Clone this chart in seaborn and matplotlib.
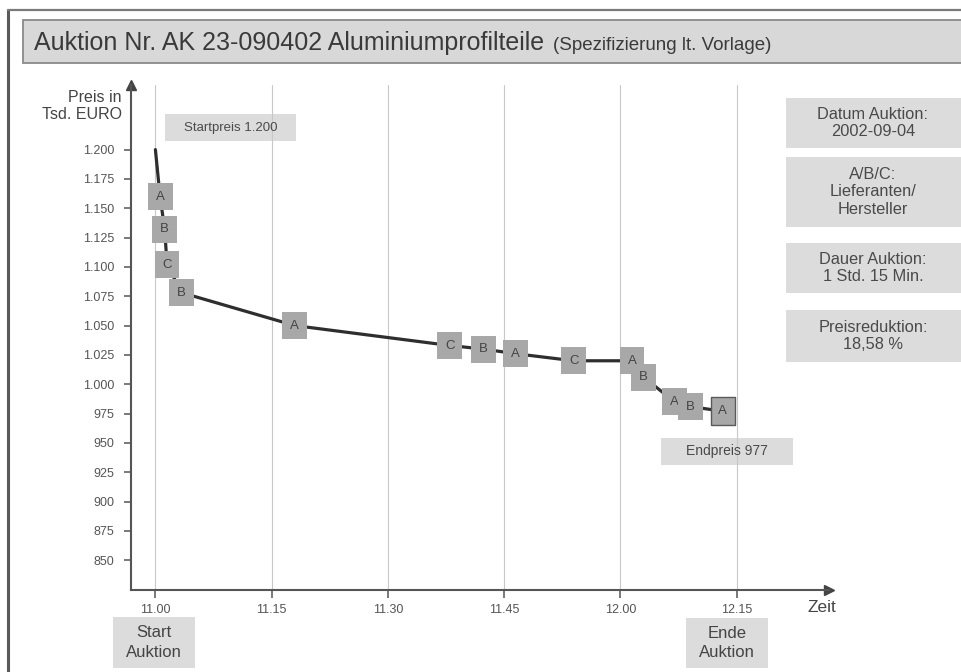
import matplotlib
matplotlib.use("Agg")
import matplotlib.pyplot as plt
import seaborn as sns
import pandas as pd
from matplotlib.patches import Rectangle
from matplotlib.lines import Line2D

# Bid history: minutes after 11.00, price in thousand EURO, bidding supplier
minutes = [0.0, 0.6, 1.2, 1.5, 3.4, 18.0, 38.0, 42.3, 46.5, 54.0, 61.5, 63.0, 67.0, 69.0, 73.2]
prices = [1200, 1160, 1132, 1102, 1078, 1050, 1033, 1030, 1026, 1020, 1020, 1006, 985, 981, 977]
bidders = ["", "A", "B", "C", "B", "A", "C", "B", "A", "C", "A", "B", "A", "B", "A"]

time_ticks = [0, 15, 30, 45, 60, 75]
time_labels = ["11.00", "11.15", "11.30", "11.45", "12.00", "12.15"]
price_ticks = [850, 875, 900, 925, 950, 975, 1000, 1025, 1050, 1075, 1100, 1125, 1150, 1175, 1200]
price_labels = ["850", "875", "900", "925", "950", "975", "1.000", "1.025", "1.050",
                "1.075", "1.100", "1.125", "1.150", "1.175", "1.200"]

info_texts = ["Datum Auktion:\n2002-09-04",
              "A/B/C:\nLieferanten/\nHersteller",
              "Dauer Auktion:\n1 Std. 15 Min.",
              "Preisreduktion:\n18,58 %"]

title_main = "Auktion Nr. AK 23-090402 Aluminiumprofilteile"
title_sub = "(Spezifizierung lt. Vorlage)"

sns.set_theme(style="white")
plt.rcParams["font.family"] = ["Liberation Sans", "DejaVu Sans"]

W, H = 962, 672
fig = plt.figure(figsize=(W / 100, H / 100), dpi=100)
fig.patch.set_facecolor("white")


def fx(x):
    return x / W


def fy(y):
    return 1 - y / H


def fig_box(x0, y0, x1, y1, face="#dcdcdc", edge="none", lw=0):
    fig.add_artist(Rectangle((fx(x0), fy(y1)), fx(x1) - fx(x0), fy(y0) - fy(y1),
                             transform=fig.transFigure, facecolor=face,
                             edgecolor=edge, linewidth=lw, zorder=0))


# outer frame
fig.add_artist(Line2D([fx(8), fx(8)], [0, fy(10)], color="#5a5a5a", lw=2.2,
                      transform=fig.transFigure))
fig.add_artist(Line2D([fx(8), 1], [fy(10), fy(10)], color="#7a7a7a", lw=1.6,
                      transform=fig.transFigure))

# title bar
fig_box(23, 20, 975, 63, face="#d8d8d8", edge="#8a8a8a", lw=1.3)
fig.text(fx(34), fy(50), title_main, fontsize=18, color="#3a3a3a", va="baseline", ha="left")
fig.text(fx(553), fy(50), title_sub, fontsize=13.5, color="#3a3a3a", va="baseline", ha="left")

# plot area
left_px, right_px, top_px, bottom_px = 131, 829, 85, 590
ax = fig.add_axes([fx(left_px), fy(bottom_px), fx(right_px) - fx(left_px), fy(top_px) - fy(bottom_px)])
ax.set_facecolor("none")

px_per_min = 7.75
px_per_unit = 29.33 / 25
ax.set_xlim(-(155.4 - left_px) / px_per_min, (right_px - 155.4) / px_per_min)
ax.set_ylim(1200 - (bottom_px - 149.6) / px_per_unit, 1200 + (149.6 - top_px) / px_per_unit)

df = pd.DataFrame({"minute": minutes, "price": prices, "bidder": bidders})
bids = df[df["bidder"] != ""]

sns.lineplot(data=df, x="minute", y="price", estimator=None, sort=False,
             color="#2e2e2e", linewidth=2.3, ax=ax, zorder=2)

box_marker = [(-0.46, -0.5), (0.46, -0.5), (0.46, 0.5), (-0.46, 0.5), (-0.46, -0.5)]
for i, row in bids.iterrows():
    last = i == bids.index[-1]
    sns.scatterplot(x=[row["minute"]], y=[row["price"]], marker=box_marker, s=380,
                    color="#a8a8a8", edgecolor="#5a5a5a" if last else "none",
                    linewidth=1.0 if last else 0, ax=ax, zorder=3 + i * 0.01, legend=False)
    ax.text(row["minute"], row["price"], row["bidder"], ha="center", va="center",
            fontsize=9.5, color="#444444", zorder=3.005 + i * 0.01)

ax.set_xticks(time_ticks)
ax.set_xticklabels(time_labels)
ax.set_yticks(price_ticks)
ax.set_yticklabels(price_labels)
ax.set_xlabel("")
ax.set_ylabel("")
ax.grid(axis="x", color="#c8c8c8", linewidth=0.8)
ax.grid(axis="y", visible=False)
ax.tick_params(axis="y", direction="out", length=5, width=1.1, color="#555555",
               labelsize=9, labelcolor="#555555", pad=7, left=True)
ax.tick_params(axis="x", direction="out", length=6, width=1.1, color="#555555",
               labelsize=9, labelcolor="#555555", pad=4, bottom=True)
for side in ("top", "right"):
    ax.spines[side].set_visible(False)
for side in ("left", "bottom"):
    ax.spines[side].set_color("#555555")
    ax.spines[side].set_linewidth(1.5)

# axis arrows
ax.plot(1, 0, marker=">", markersize=7, color="#444444", transform=ax.transAxes, clip_on=False)
ax.plot(0, 1, marker="^", markersize=7, color="#444444", transform=ax.transAxes, clip_on=False)

# axis titles
fig.text(fx(122), fy(106), "Preis in\nTsd. EURO", ha="right", va="center",
         fontsize=11.5, color="#444444", linespacing=1.15)
fig.text(fx(822), fy(608), "Zeit", ha="center", va="center", fontsize=12.5, color="#444444")

# price notes
fig_box(165, 114, 296, 141)
fig.text(fx(230.5), fy(127.5), "Startpreis 1.200", ha="center", va="center",
         fontsize=9.5, color="#4a4a4a")
fig_box(661, 438, 793, 465)
fig.text(fx(727), fy(451.5), "Endpreis 977", ha="center", va="center",
         fontsize=10, color="#4a4a4a")

# start / end notes
fig_box(113, 617, 195, 668)
fig.text(fx(154), fy(642.5), "Start\nAuktion", ha="center", va="center",
         fontsize=12, color="#444444", linespacing=1.35)
fig_box(686, 618, 768, 668)
fig.text(fx(727), fy(643), "Ende\nAuktion", ha="center", va="center",
         fontsize=12, color="#444444", linespacing=1.35)

# info panel
info_rows = [(98, 148), (157, 227), (243, 293), (310, 362)]
for (y0, y1), txt in zip(info_rows, info_texts):
    fig_box(786, y0, 975, y1)
    fig.text(fx(873), fy((y0 + y1) / 2), txt, ha="center", va="center",
             fontsize=11.8, color="#4a4a4a", linespacing=1.2)

fig.savefig("out.png", dpi=100, facecolor="white")
